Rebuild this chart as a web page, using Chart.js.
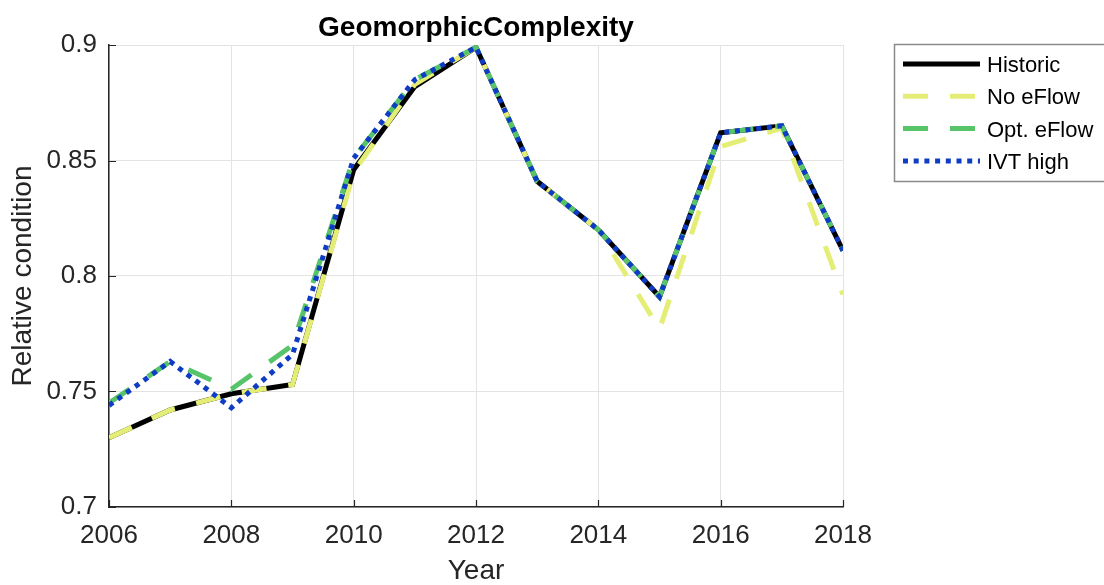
<!DOCTYPE html>
<html>
<head>
<meta charset="utf-8">
<script src="https://cdn.jsdelivr.net/npm/chart.js@4.4.0/dist/chart.umd.min.js"></script>
<style>
  html, body { margin: 0; padding: 0; background: #fff; }
  canvas { display: block; }
</style>
</head>
<body>
<canvas id="chart" width="1104" height="585"></canvas>
<script>
const chartTitle = 'GeomorphicComplexity';
const years = [2006, 2007, 2008, 2009, 2010, 2011, 2012, 2013, 2014, 2015, 2016, 2017, 2018];
const historic = [0.730, 0.742, 0.749, 0.753, 0.846, 0.882, 0.899, 0.841, 0.820, 0.791, 0.862, 0.865, 0.811];
const noEflow  = [0.730, 0.742, 0.749, 0.753, 0.845, 0.883, 0.899, 0.841, 0.820, 0.777, 0.856, 0.864, 0.792];
const optEflow = [0.745, 0.763, 0.751, 0.770, 0.851, 0.885, 0.899, 0.841, 0.820, 0.791, 0.862, 0.865, 0.811];
const ivtHigh  = [0.744, 0.763, 0.743, 0.766, 0.851, 0.885, 0.899, 0.841, 0.820, 0.791, 0.862, 0.865, 0.811];

const FONT = "'Liberation Sans', Arial, Helvetica, sans-serif";
const AXIS_COLOR = '#262626';
Chart.defaults.font.family = FONT;

const toPoints = (vals) => years.map((x, i) => ({ x, y: vals[i] }));

// MATLAB-like inward ticks, title above plot
const axesExtras = {
  id: 'axesExtras',
  beforeDatasetsDraw(chart) {
    const { ctx, chartArea: a, scales } = chart;
    ctx.save();
    ctx.strokeStyle = AXIS_COLOR;
    ctx.lineWidth = 1.2;
    ctx.beginPath();
    scales.y.ticks.forEach((t) => {
      const y = Math.round(scales.y.getPixelForValue(t.value)) + 0.5;
      ctx.moveTo(a.left, y); ctx.lineTo(a.left + 7, y);
    });
    scales.x.ticks.forEach((t) => {
      const x = Math.round(scales.x.getPixelForValue(t.value)) + 0.5;
      ctx.moveTo(x, a.bottom); ctx.lineTo(x, a.bottom - 7);
    });
    ctx.stroke();
    ctx.restore();
  },
  afterDraw(chart) {
    const { ctx, chartArea: a } = chart;
    ctx.save();
    ctx.fillStyle = '#000';
    ctx.font = `bold 28px ${FONT}`;
    ctx.textAlign = 'center';
    ctx.textBaseline = 'alphabetic';
    ctx.fillText(chartTitle, (a.left + a.right) / 2, 36);
    ctx.restore();
  },
};

const boxLegend = {
  id: 'boxLegend',
  afterDraw(chart) {
    const ctx = chart.ctx;
    ctx.save();
    ctx.fillStyle = '#fff';
    ctx.fillRect(894, 44, 240, 137);
    ctx.strokeStyle = '#8a8a8a';
    ctx.lineWidth = 1.5;
    ctx.strokeRect(894.5, 44.5, 240, 137);
    chart.data.datasets.forEach((ds, i) => {
      const y = 64 + i * 32.3;
      ctx.beginPath();
      ctx.setLineDash(ds.borderDash || []);
      ctx.lineCap = 'butt';
      ctx.strokeStyle = ds.borderColor;
      ctx.lineWidth = ds.borderWidth;
      ctx.moveTo(903, y);
      ctx.lineTo(980, y);
      ctx.stroke();
      ctx.setLineDash([]);
      ctx.fillStyle = '#000';
      ctx.font = `22px ${FONT}`;
      ctx.textAlign = 'left';
      ctx.textBaseline = 'middle';
      ctx.fillText(ds.label, 987, y + 2);
    });
    ctx.restore();
  },
};

const lineStyle = { pointRadius: 0, pointHoverRadius: 0, tension: 0, fill: false, borderWidth: 5, borderCapStyle: 'butt' };

new Chart(document.getElementById('chart'), {
  type: 'line',
  data: {
    datasets: [
      { ...lineStyle, label: 'Historic', data: toPoints(historic), borderColor: '#000000', order: 4 },
      { ...lineStyle, label: 'No eFlow', data: toPoints(noEflow), borderColor: '#e4ee76', borderDash: [25, 22], order: 3 },
      { ...lineStyle, label: 'Opt. eFlow', data: toPoints(optEflow), borderColor: '#58c46a', borderDash: [25, 22], order: 2 },
      { ...lineStyle, label: 'IVT high', data: toPoints(ivtHigh), borderColor: '#0f3cc4', borderDash: [5, 5.7], order: 1 },
    ],
  },
  options: {
    responsive: false,
    animation: false,
    layout: { padding: { left: 0, right: 261, top: 45, bottom: 0 } },
    plugins: { legend: { display: false }, title: { display: false }, tooltip: { enabled: false } },
    scales: {
      x: {
        type: 'linear',
        min: 2006,
        max: 2018,
        afterFit: (s) => { s.height = 78; },
        ticks: { stepSize: 2, color: AXIS_COLOR, font: { size: 26 }, padding: 13, maxRotation: 0, callback: (v) => String(v) },
        grid: { color: '#e3e3e3', lineWidth: 1, drawTicks: false },
        border: { display: true, color: AXIS_COLOR, width: 1.5 },
        title: { display: true, text: 'Year', color: AXIS_COLOR, font: { size: 28, lineHeight: 1 }, padding: { top: 0, bottom: 0 } },
      },
      y: {
        min: 0.7,
        max: 0.9,
        afterFit: (s) => { s.width = 109; },
        ticks: { stepSize: 0.05, color: AXIS_COLOR, font: { size: 26 }, padding: 12, callback: (v) => String(+v.toFixed(2)) },
        grid: { color: '#e3e3e3', lineWidth: 1, drawTicks: false },
        border: { display: true, color: AXIS_COLOR, width: 1.5 },
        title: { display: true, text: 'Relative condition', color: AXIS_COLOR, font: { size: 28, lineHeight: 1 }, padding: { top: 9, bottom: 0 } },
      },
    },
  },
  plugins: [axesExtras, boxLegend],
});
</script>
</body>
</html>
